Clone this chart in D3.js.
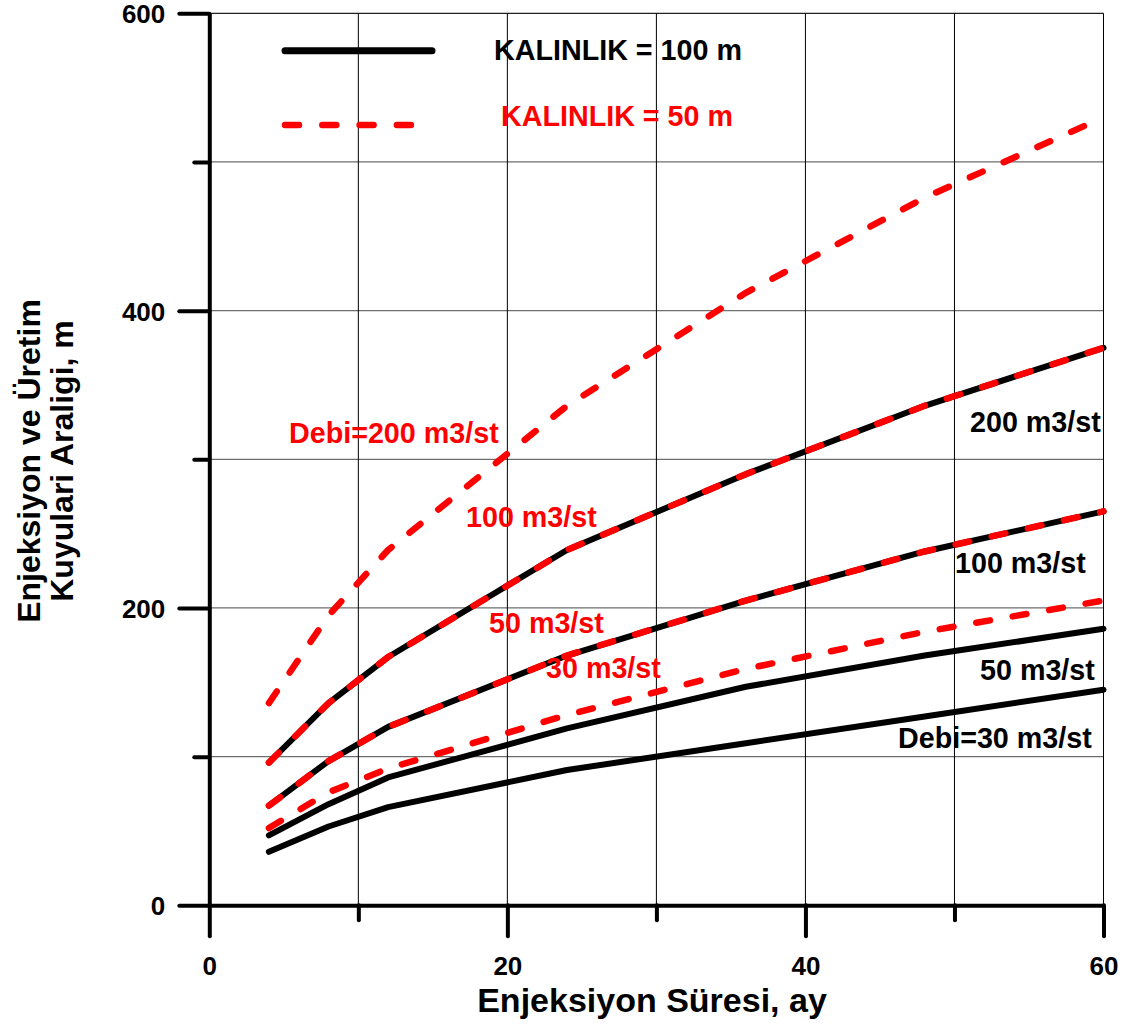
<!DOCTYPE html>
<html>
<head>
<meta charset="utf-8">
<script src="https://cdn.jsdelivr.net/npm/d3@7"></script>
<style>
html,body{margin:0;padding:0;background:#fff;}
text{font-family:"Liberation Sans",Arial,sans-serif;font-weight:bold;}
</style>
</head>
<body>
<svg id="chart" width="1127" height="1025"></svg>
<script>
// ---- data ----
const months = [4, 8, 12, 24, 36, 48, 60];
// KALINLIK = 100 m (solid black)
const h100_q30  = [36, 53, 66, 91, 109, 127, 145];
const h100_q50  = [47, 68, 86, 119, 147, 168, 186];
const h100_q100 = [67, 97, 120, 168, 205, 238, 265];
const h100_q200 = [96, 136, 167, 239, 290, 336, 375];
// KALINLIK = 50 m (dashed red)
const h50_q30  = [52, 76, 92, 128, 159, 184, 205];
const h50_q50  = [67, 97, 120, 168, 205, 238, 265];
const h50_q100 = [96, 136, 167, 239, 290, 336, 375];
const h50_q200 = [136, 195, 239, 336, 412, 476, 530];

const xTicksMajor = [0, 20, 40, 60];
const xTicksMinor = [10, 30, 50];
const yTicksMajor = [0, 200, 400, 600];
const yTicksMinor = [100, 300, 500];

const legendItems = [
  {label: "KALINLIK = 100 m", color: "#000", dashed: false},
  {label: "KALINLIK = 50 m", color: "#ff0000", dashed: true}
];
const blackLabels = [
  {text: "200 m3/st"},
  {text: "100 m3/st"},
  {text: "50 m3/st"},
  {text: "Debi=30 m3/st"}
];
const redLabels = [
  {text: "Debi=200 m3/st"},
  {text: "100 m3/st"},
  {text: "50 m3/st"},
  {text: "30 m3/st"}
];

// ---- chart ----
const svg = d3.select("#chart");
svg.append("rect").attr("width",1127).attr("height",1025).attr("fill","#fff");

const x = d3.scaleLinear().domain([0, 60]).range([209.3, 1103.5]);
const y = d3.scaleLinear().domain([0, 600]).range([905.3, 13.3]);

// grid
const grid = svg.append("g");
grid.selectAll("line.h").data([100,200,300,400,500,600]).join("line")
  .attr("x1", x(0)).attr("x2", x(60))
  .attr("y1", d => y(d)).attr("y2", d => y(d))
  .attr("stroke", d => d === 600 ? "#222" : "#6e6e6e").attr("stroke-width", 1.3);
grid.selectAll("line.v").data([10,20,30,40,50,60]).join("line")
  .attr("x1", d => x(d)).attr("x2", d => x(d))
  .attr("y1", y(0)).attr("y2", y(600))
  .attr("stroke", "#000").attr("stroke-width", 1);

// axes
function styleAxis(g) {
  g.select(".domain").attr("stroke", "#000").attr("stroke-width", 4);
  g.selectAll(".tick line").attr("stroke", "#000").attr("stroke-width", 4)
    .attr("stroke-linecap", "round");
  g.selectAll(".tick text").attr("font-size", 26).attr("fill", "#000")
    .style("font-family", '"Liberation Sans", Arial, sans-serif').style("font-weight", "bold");
}
const yAxis = d3.axisLeft(y)
  .tickValues(yTicksMajor.concat(yTicksMinor))
  .tickFormat(d => yTicksMajor.includes(d) ? d : "")
  .tickSizeOuter(0);
const gy = svg.append("g").attr("transform", `translate(${x(0)},0)`).call(yAxis);
styleAxis(gy);
gy.selectAll(".tick line").attr("x2", d => yTicksMajor.includes(d) ? -30 : -15);
gy.selectAll(".tick text").attr("x", -44).attr("dy", "0.36em");

const xAxis = d3.axisBottom(x)
  .tickValues(xTicksMajor.concat(xTicksMinor))
  .tickFormat(d => xTicksMajor.includes(d) ? d : "")
  .tickSizeOuter(0);
const gx = svg.append("g").attr("transform", `translate(0,${y(0)})`).call(xAxis);
styleAxis(gx);
gx.selectAll(".tick line").attr("y2", d => xTicksMajor.includes(d) ? 31 : 15);
gx.selectAll(".tick text").attr("y", 70).attr("dy", 0);

// lines
const line = d3.line().x((d, i) => x(months[i])).y(d => y(d)).curve(d3.curveLinear);
const solid = [h100_q30, h100_q50, h100_q100, h100_q200];
const dashed = [h50_q30, h50_q50, h50_q100, h50_q200];
svg.append("g").selectAll("path").data(solid).join("path")
  .attr("d", line).attr("fill", "none").attr("stroke", "#000")
  .attr("stroke-width", 6).attr("stroke-linecap", "round").attr("stroke-linejoin", "round");
svg.append("g").selectAll("path").data(dashed).join("path")
  .attr("d", line).attr("fill", "none").attr("stroke", "#ff0000")
  .attr("stroke-width", 6.5).attr("stroke-linecap", "round")
  .attr("stroke-dasharray", "14,23");

// legend
const lg = svg.append("g");
lg.append("line").attr("x1", 285).attr("x2", 432).attr("y1", 50.7).attr("y2", 50.7)
  .attr("stroke", legendItems[0].color).attr("stroke-width", 7).attr("stroke-linecap", "round");
lg.append("line").attr("x1", 285).attr("x2", 412).attr("y1", 125).attr("y2", 125)
  .attr("stroke", legendItems[1].color).attr("stroke-width", 6.5).attr("stroke-linecap", "round")
  .attr("stroke-dasharray", "14,23.3");
lg.append("text").attr("x", 494).attr("y", 60).attr("font-size", 28.7)
  .attr("fill", legendItems[0].color).text(legendItems[0].label);
lg.append("text").attr("x", 501).attr("y", 126).attr("font-size", 28.7)
  .attr("fill", legendItems[1].color).text(legendItems[1].label);

// curve labels
const blackPos = [[970, 431.7], [955, 573.3], [980, 680], [898, 748.3]];
svg.append("g").selectAll("text").data(blackLabels).join("text")
  .attr("x", (d, i) => blackPos[i][0]).attr("y", (d, i) => blackPos[i][1])
  .attr("font-size", 28.7).attr("fill", "#000").text(d => d.text);
const redPos = [[289, 443.3], [466, 527], [489, 633], [546, 678]];
svg.append("g").selectAll("text").data(redLabels).join("text")
  .attr("x", (d, i) => redPos[i][0]).attr("y", (d, i) => redPos[i][1])
  .attr("font-size", 28.7).attr("fill", "#ff0000").text(d => d.text);

// axis titles
svg.append("text").attr("x", 652).attr("y", 1012).attr("text-anchor", "middle")
  .attr("font-size", 34).attr("fill", "#000").text("Enjeksiyon Süresi, ay");
const yt = svg.append("text").attr("transform", "translate(0,461) rotate(-90)")
  .attr("text-anchor", "middle").attr("font-size", 32).attr("fill", "#000");
yt.append("tspan").attr("x", 0).attr("y", 40).text("Enjeksiyon ve Üretim");
yt.append("tspan").attr("x", 0).attr("y", 73).text("Kuyulari Araligi, m");
</script>
</body>
</html>
